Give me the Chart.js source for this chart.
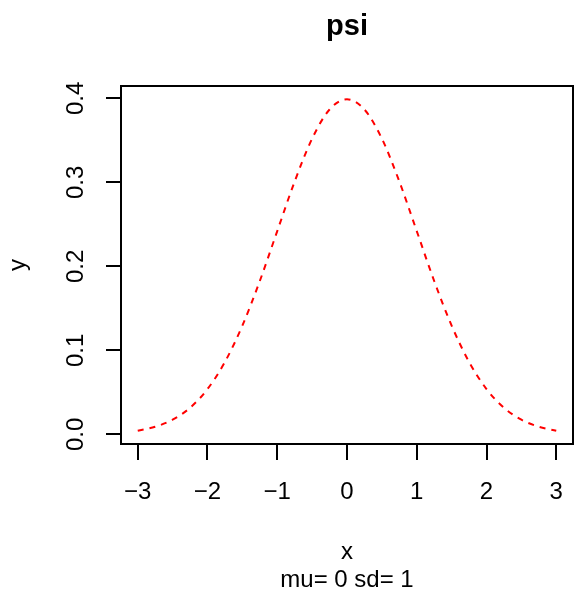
<!DOCTYPE html>
<html>
<head>
<meta charset="utf-8">
<script src="https://cdn.jsdelivr.net/npm/chart.js@4.4.1/dist/chart.umd.min.js"></script>
<style>
  html, body { margin: 0; padding: 0; background: #fff; }
  canvas { display: block; }
</style>
</head>
<body>
<canvas id="psiChart" width="576" height="596"></canvas>
<script>
// values (density curve)
const xValues = [-3, -2.75, -2.5, -2.25, -2, -1.75, -1.5, -1.25, -1, -0.75, -0.5, -0.25, 0,
                 0.25, 0.5, 0.75, 1, 1.25, 1.5, 1.75, 2, 2.25, 2.5, 2.75, 3];
const yValues = [0.0044, 0.0091, 0.0175, 0.0317, 0.0540, 0.0863, 0.1295, 0.1826, 0.2420, 0.3011, 0.3521, 0.3867, 0.3989,
                 0.3867, 0.3521, 0.3011, 0.2420, 0.1826, 0.1295, 0.0863, 0.0540, 0.0317, 0.0175, 0.0091, 0.0044];
const xTicks = [-3, -2, -1, 0, 1, 2, 3];
const yTicks = [0.0, 0.1, 0.2, 0.3, 0.4];

Chart.defaults.font.family = "'Liberation Sans', Arial, sans-serif";
Chart.defaults.color = '#000';

// box around the plot region, like R's box()
const boxPlugin = {
    id: 'box',
    afterDatasetsDraw(chart) {
        const a = chart.chartArea;
        const ctx = chart.ctx;
        ctx.save();
        ctx.strokeStyle = '#000';
        ctx.lineWidth = 2;
        ctx.strokeRect(a.left, a.top, a.right - a.left, a.bottom - a.top);
        ctx.restore();
    }
};

const ctx = document.getElementById('psiChart').getContext('2d');
const psiChart = new Chart(ctx, {
    type: 'line',
    data: {
        datasets: [{
            data: xValues.map((x, i) => ({ x: x, y: yValues[i] })),
            borderColor: '#ff0000',
            borderWidth: 2,
            borderDash: [6, 6],
            pointRadius: 0,
            fill: false,
            cubicInterpolationMode: 'monotone'
        }]
    },
    options: {
        responsive: false,
        devicePixelRatio: 1,
        animation: false,
        layout: { padding: { left: 0, right: 3, top: 0, bottom: 0 } },
        plugins: {
            legend: { display: false },
            tooltip: { enabled: false },
            title: {
                display: true,
                text: 'psi',
                fullSize: false,
                font: { size: 29, weight: 'bold' },
                padding: { top: 9.6, bottom: 41.6 }
            }
        },
        scales: {
            x: {
                type: 'linear',
                min: -3.24,
                max: 3.24,
                afterFit: s => { s.height = 152; s.paddingLeft = 0; s.paddingRight = 0; },
                afterBuildTicks: s => { s.ticks = xTicks.map(v => ({ value: v })); },
                border: { display: false },
                grid: { drawOnChartArea: false, drawTicks: true, tickLength: 16, color: '#000', lineWidth: 2 },
                ticks: {
                    padding: 18,
                    font: { size: 24 },
                    maxRotation: 0,
                    callback: v => (v < 0 ? '\u2212' + Math.abs(v) : String(v))
                },
                title: {
                    display: true,
                    text: ['x', 'mu= 0 sd= 1'],
                    font: { size: 24 },
                    padding: { top: 0, bottom: 0.8 }
                }
            },
            y: {
                type: 'linear',
                min: -0.0114,
                max: 0.4147,
                afterFit: s => { s.width = 121; s.paddingTop = 0; s.paddingBottom = 0; },
                afterBuildTicks: s => { s.ticks = yTicks.map(v => ({ value: v })); },
                border: { display: false },
                grid: { drawOnChartArea: false, drawTicks: true, tickLength: 15, color: '#000', lineWidth: 2 },
                ticks: {
                    padding: 13,
                    font: { size: 24 },
                    minRotation: 90,
                    maxRotation: 90,
                    crossAlign: 'center',
                    callback: v => v.toFixed(1)
                },
                title: {
                    display: true,
                    text: 'y',
                    font: { size: 24 },
                    padding: { top: 3.6, bottom: 0 }
                }
            }
        }
    },
    plugins: [boxPlugin]
});
</script>
</body>
</html>
